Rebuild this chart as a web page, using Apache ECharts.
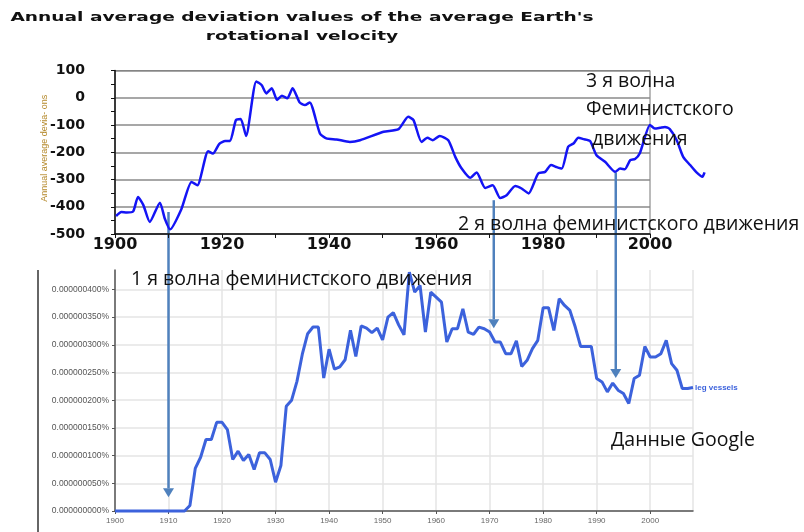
<!DOCTYPE html>
<html>
<head>
<meta charset="utf-8">
<script src="https://cdn.jsdelivr.net/npm/echarts@6/dist/echarts.min.js"></script>
<style>
  html, body { margin: 0; padding: 0; background: #fff; }
  #chart { width: 804px; height: 532px; }
</style>
</head>
<body>
<div id="chart"></div>
<script>
// верхний график: отклонения скорости вращения Земли (годы читаются с картинки)
const topYears = [1900.2, 1901.2, 1902.2, 1903.4, 1904.3, 1905.3, 1906.5, 1908.4, 1909.3, 1910.3,
  1912.4, 1914.3, 1915.4, 1917.4, 1918.3, 1919.5, 1920.6, 1921.5, 1922.6, 1923.5,
  1924.5, 1926.4, 1927.4, 1928.3, 1929.3, 1930.3, 1931.2, 1932.2, 1933.2, 1934.5,
  1935.5, 1936.4, 1938.3, 1939.5, 1941.4, 1943.9, 1945.8, 1950.2, 1953, 1954.8,
  1955.8, 1957.3, 1958.4, 1959.4, 1960.7, 1962.3, 1963.6, 1964.8, 1966.4, 1967.6,
  1969.2, 1970.6, 1972, 1973.2, 1974.8, 1976, 1977.3, 1979.1, 1980.4, 1981.5,
  1982.5, 1983.5, 1984.7, 1985.7, 1986.6, 1987.6, 1988.8, 1990, 1991.6, 1993.5,
  1994.4, 1995.3, 1996.3, 1997.2, 1998.1, 2000, 2000.9, 2001.9, 2002.8, 2003.7,
  2005, 2006.2, 2007.5, 2008.7, 2009.8, 2010.2];
const topValues = [-434, -419, -421, -417, -364, -394, -456, -385, -443, -483,
  -409, -309, -321, -196, -205, -169, -159, -159, -82, -78,
  -140, 60, 47, 16, 35, -8, 7, -2, 35, -17,
  -27, -17, -131, -149, -153, -162, -156, -125, -115, -70,
  -82, -162, -147, -156, -140, -156, -217, -260, -294, -274,
  -331, -321, -368, -358, -324, -333, -351, -278, -272, -247,
  -254, -260, -180, -168, -147, -152, -159, -211, -235, -272,
  -260, -262, -229, -225, -204, -100, -113, -110, -107, -115,
  -156, -217, -247, -274, -290, -274];

// нижний график: Google Ngram "leg vessels", единицы 1e-9 %
const ngramStartYear = 1900;
const ngramValues = [0, 0, 0, 0, 0, 0, 0, 0, 0, 0,
  0, 0, 0, 0, 10, 77, 97, 129, 129, 160,
  160, 147, 93, 108, 91, 102, 75, 105, 105, 93,
  52, 82, 189, 200, 234, 283, 320, 332, 332, 240,
  292, 256, 260, 273, 326, 279, 334, 330, 322, 330,
  309, 350, 358, 336, 318, 431, 395, 407, 323, 395,
  386, 377, 305, 329, 329, 365, 323, 319, 332, 329,
  323, 305, 305, 284, 284, 307, 261, 272, 293, 308,
  367, 367, 326, 383, 371, 362, 332, 297, 297, 297,
  239, 233, 215, 231, 218, 212, 194, 239, 245, 297,
  278, 278, 284, 308, 266, 254, 221, 221, 223];

// стрелки: год, начало на верхнем графике, конец на нижнем
const arrowYears = [1910, 1970.8, 1993.6];
const arrowFrom = [-419, -376, -274];
const arrowTo = [25, 330, 240];

const chart = echarts.init(document.getElementById('chart'));

const topData = topYears.map((y, i) => [y, topValues[i]]);
const ngramData = ngramValues.map((v, i) => [ngramStartYear + i, v]);

const labelFont = { fontFamily: 'Open Sans', fontSize: 19.5, fill: '#111' };
const pxPerYear = 535 / 100; // масштаб верхнего графика

const option = {
  animation: false,
  grid: [
    { left: 115, top: 70.5, width: 535, height: 163.5, show: true, borderColor: '#777', borderWidth: 1 },
    { left: 115, top: 270, width: 578, height: 241 },
    // невидимая сетка того же масштаба: линия уходит правее 2000 года
    { left: 115, top: 70.5, width: pxPerYear * (2010.2 - 1900), height: 163.5 }
  ],
  xAxis: [
    {
      gridIndex: 0, type: 'value', min: 1900, max: 2000, interval: 20,
      axisLine: { onZero: false, lineStyle: { color: '#111', width: 1.5 } },
      axisTick: { show: true, length: 4, lineStyle: { color: '#111' } },
      minorTick: { show: true, splitNumber: 2, length: 4, lineStyle: { color: '#111' } },
      splitLine: { show: false },
      axisLabel: { margin: 3, fontFamily: 'DejaVu Sans', fontWeight: 'bold', fontSize: 16, color: '#111', formatter: v => String(v) }
    },
    {
      gridIndex: 1, type: 'value', min: 1900, max: 2008, interval: 10,
      axisLine: { onZero: false, lineStyle: { color: '#555', width: 1.5 } },
      axisTick: { show: true, length: 3, lineStyle: { color: '#555' } },
      splitLine: { show: true, lineStyle: { color: '#e4e4e4', width: 1.5 } },
      axisLabel: { margin: 6, fontFamily: 'Liberation Sans', fontSize: 8, color: '#666', showMaxLabel: false, formatter: v => String(v) }
    },
    { gridIndex: 2, type: 'value', min: 1900, max: 2010.2, show: false }
  ],
  yAxis: [
    {
      gridIndex: 0, type: 'value', min: -500, max: 100, interval: 100,
      name: 'Annual average devia- ons', nameLocation: 'middle', nameGap: 66, nameRotate: 90,
      nameMoveOverlap: false,
      nameTextStyle: { fontFamily: 'Liberation Sans', fontSize: 9, color: '#b5892b', padding: [0, 0, 0, 8] },
      axisLine: { show: true, onZero: false, lineStyle: { color: '#111', width: 1.5 } },
      axisTick: { show: true, length: 4, lineStyle: { color: '#111' } },
      minorTick: { show: true, splitNumber: 2, length: 4, lineStyle: { color: '#111' } },
      splitLine: { show: true, lineStyle: { color: '#8a8a8a', width: 1.5 } },
      axisLabel: { margin: 30, fontFamily: 'DejaVu Sans', fontWeight: 'bold', fontSize: 14, color: '#111' }
    },
    {
      gridIndex: 1, type: 'value', min: 0, max: 435, interval: 50,
      axisLine: { show: true, onZero: false, lineStyle: { color: '#555', width: 1.5 } },
      axisTick: { show: true, length: 3, lineStyle: { color: '#555' } },
      splitLine: {
        show: true,
        lineStyle: {
          color: ['#e4e4e4', '#e4e4e4', '#e4e4e4', '#e4e4e4', '#e4e4e4',
            '#e4e4e4', '#e4e4e4', '#e4e4e4', '#e4e4e4', 'transparent'],
          width: 1.5
        }
      },
      axisLabel: {
        margin: 6, fontFamily: 'Liberation Sans', fontSize: 8.5, color: '#555', showMaxLabel: false,
        formatter: v => (v * 1e-9).toFixed(9) + '%'
      }
    },
    { gridIndex: 2, type: 'value', min: -500, max: 100, show: false }
  ],
  series: [
    {
      type: 'line', xAxisIndex: 2, yAxisIndex: 2, data: topData,
      showSymbol: false, clip: false, smooth: 0.2,
      lineStyle: { color: '#1414f5', width: 2.5 }
    },
    {
      type: 'line', xAxisIndex: 1, yAxisIndex: 1, data: ngramData,
      showSymbol: false, clip: false,
      lineStyle: { color: '#3c62dc', width: 3 },
      endLabel: {
        show: true, formatter: 'leg vessels', distance: 2,
        fontFamily: 'Liberation Sans', fontSize: 8, fontWeight: 'bold', color: '#3c62dc'
      }
    }
  ]
};

chart.setOption(option);

// стрелки и подписи поверх графиков
const arrows = arrowYears.map((yr, i) => {
  const p0 = chart.convertToPixel({ gridIndex: 0 }, [yr, arrowFrom[i]]);
  const p1 = chart.convertToPixel({ gridIndex: 1 }, [yr, arrowTo[i]]);
  const x = p0[0];
  const head = 9;
  return {
    type: 'group',
    z: 50,
    children: [
      { type: 'line', shape: { x1: x, y1: p0[1], x2: x, y2: p1[1] - head }, style: { stroke: '#4f81bd', lineWidth: 2.5 } },
      { type: 'polygon', shape: { points: [[x - 5.5, p1[1] - head], [x + 5.5, p1[1] - head], [x, p1[1]]] }, style: { fill: '#4f81bd' } }
    ]
  };
});

const texts = [
  { text: '3 я волна', x: 586, y: 81 },
  { text: 'Феминистского', x: 586, y: 109 },
  { text: 'движения', x: 592, y: 139 },
  { text: '2 я волна феминистского движения', x: 458, y: 224 },
  { text: '1 я волна феминистского движения', x: 131, y: 279 },
  { text: 'Данные Google', x: 611, y: 440 }
].map(t => ({
  type: 'text', x: t.x, y: t.y, z: 60,
  style: Object.assign({ text: t.text, verticalAlign: 'middle' }, labelFont)
}));

// заголовок растянут по ширине, как на исходной картинке
const titleStyle = { fontFamily: 'DejaVu Sans', fontWeight: 'bold', fontSize: 13, fill: '#111', align: 'center', verticalAlign: 'middle' };
const titles = [
  { type: 'text', x: 302, y: 18, scaleX: 1.43, style: Object.assign({ text: "Annual average deviation values of the average Earth's" }, titleStyle) },
  { type: 'text', x: 302, y: 37, scaleX: 1.43, style: Object.assign({ text: 'rotational velocity' }, titleStyle) }
];

chart.setOption({
  graphic: [
    { type: 'line', shape: { x1: 38, y1: 270, x2: 38, y2: 532 }, style: { stroke: '#333', lineWidth: 1.5 } }
  ].concat(titles, arrows, texts)
});
</script>
</body>
</html>
